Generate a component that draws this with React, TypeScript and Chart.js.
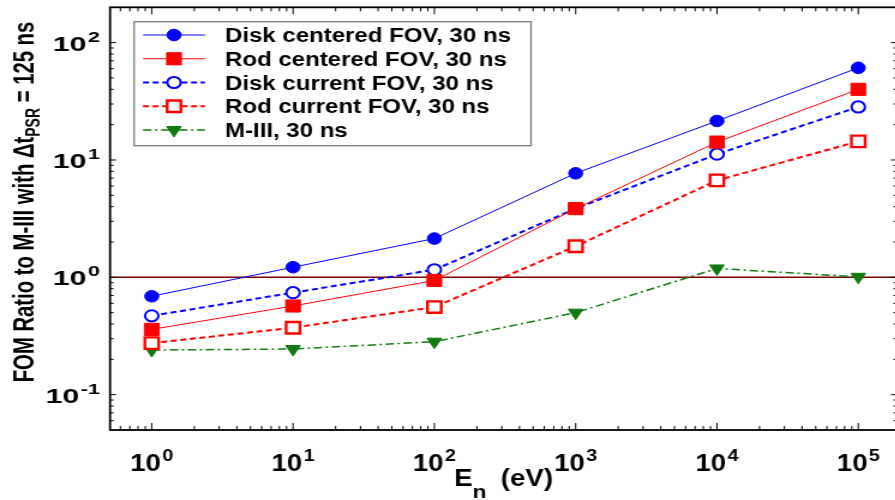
import React, { useEffect, useRef } from 'react';
import { Chart, registerables } from 'chart.js';

Chart.register(...registerables);

// ---------- data ----------
const ENERGY_EV = [1, 10, 100, 1000, 10000, 100000];
const DISK_CENTERED = [0.69, 1.22, 2.14, 7.7, 21.5, 61];
const ROD_CENTERED = [0.36, 0.57, 0.94, 3.85, 14.2, 40];
const DISK_CURRENT = [0.47, 0.74, 1.16, 3.85, 11.2, 28.3];
const ROD_CURRENT = [0.275, 0.372, 0.558, 1.84, 6.7, 14.4];
const M_III = [0.24, 0.245, 0.283, 0.5, 1.19, 1.01];
const SERIES_LABELS = [
  'Disk centered FOV, 30 ns',
  'Rod centered FOV, 30 ns',
  'Disk current FOV, 30 ns',
  'Rod current FOV, 30 ns',
  'M-III, 30 ns',
];
const X_TICK_EXPONENTS = ['0', '1', '2', '3', '4', '5'];
const Y_TICK_EXPONENTS = ['-1', '0', '1', '2'];
const REFERENCE_RATIO = 1;
const X_MIN = 0.507;
const X_MAX = 1.88e5;
const Y_MIN = 0.05;
const Y_MAX = 200;

// ---------- styling ----------
const FONT = '"Liberation Sans", Arial, Helvetica, sans-serif';
const STRETCH = 1.2; // horizontal stretch of the whole picture
const CANVAS_W = 750;
const CANVAS_H = 500;

type Style = {
  color: string;
  width: number;
  dash: number[];
  point: 'circle' | 'rect' | 'triangle';
  radius: number;
  filled: boolean;
  pbw: number;
  rot: number;
};

const STYLES: Style[] = [
  { color: '#0000ff', width: 1, dash: [], point: 'circle', radius: 5.8, filled: true, pbw: 1, rot: 0 },
  { color: '#ff0000', width: 1, dash: [], point: 'rect', radius: 8.6, filled: true, pbw: 1, rot: 0 },
  { color: '#0000ff', width: 2, dash: [5, 3], point: 'circle', radius: 5.6, filled: false, pbw: 2, rot: 0 },
  { color: '#ff0000', width: 2, dash: [5, 3], point: 'rect', radius: 8.1, filled: false, pbw: 2.4, rot: 0 },
  { color: '#117a11', width: 1.5, dash: [7, 3, 2, 3], point: 'triangle', radius: 7, filled: true, pbw: 1, rot: 180 },
];

const SERIES = [DISK_CENTERED, ROD_CENTERED, DISK_CURRENT, ROD_CURRENT, M_III];

function logTicks(min: number, max: number) {
  const out: { v: number; major: boolean }[] = [];
  const e0 = Math.floor(Math.log10(min));
  const e1 = Math.ceil(Math.log10(max));
  for (let e = e0; e <= e1; e++) {
    for (let m = 1; m <= 9; m++) {
      const v = m * Math.pow(10, e);
      if (v > min * 1.0001 && v < max * 0.9999) out.push({ v, major: m === 1 });
    }
  }
  return out;
}

function drawMarker(ctx: CanvasRenderingContext2D, s: Style, x: number, y: number) {
  ctx.save();
  ctx.setLineDash([]);
  ctx.beginPath();
  const r = s.radius;
  if (s.point === 'circle') {
    ctx.arc(x, y, r, 0, Math.PI * 2);
  } else if (s.point === 'rect') {
    const h = r * Math.SQRT1_2;
    ctx.rect(x - h, y - h, 2 * h, 2 * h);
  } else {
    let rad = (s.rot * Math.PI) / 180;
    ctx.moveTo(x + Math.sin(rad) * r, y - Math.cos(rad) * r);
    rad += (2 * Math.PI) / 3;
    ctx.lineTo(x + Math.sin(rad) * r, y - Math.cos(rad) * r);
    rad += (2 * Math.PI) / 3;
    ctx.lineTo(x + Math.sin(rad) * r, y - Math.cos(rad) * r);
    ctx.closePath();
  }
  ctx.fillStyle = s.filled ? s.color : '#ffffff';
  ctx.fill();
  ctx.lineWidth = s.pbw;
  ctx.strokeStyle = s.color;
  ctx.stroke();
  ctx.restore();
}

function drawPow(
  ctx: CanvasRenderingContext2D,
  exp: string,
  x: number,
  y: number,
  align: 'center' | 'right',
  baseSize: number,
  supSize: number,
  sx: number,
  rise: number
) {
  ctx.save();
  ctx.textAlign = 'left';
  ctx.textBaseline = 'alphabetic';
  ctx.fillStyle = '#000';
  ctx.font = `bold ${baseSize}px ${FONT}`;
  const wb = ctx.measureText('10').width;
  ctx.font = `bold ${supSize}px ${FONT}`;
  const we = ctx.measureText(exp).width;
  const gap = 1;
  const total = (wb + gap + we) * sx;
  const left = align === 'center' ? x - total / 2 : x - total;
  ctx.translate(left, y);
  ctx.scale(sx, 1);
  ctx.font = `bold ${baseSize}px ${FONT}`;
  ctx.fillText('10', 0, 0);
  ctx.font = `bold ${supSize}px ${FONT}`;
  ctx.fillText(exp, wb + gap, -rise);
  ctx.restore();
}

const decorPlugin = {
  id: 'decor',
  afterDatasetsDraw(chart: any) {
    const ctx: CanvasRenderingContext2D = chart.ctx;
    const a = chart.chartArea;
    const xs = chart.scales.x;
    const ys = chart.scales.y;
    ctx.save();

    // ticks (inside)
    ctx.strokeStyle = '#000';
    ctx.lineWidth = 1;
    ctx.setLineDash([]);
    for (const t of logTicks(X_MIN, X_MAX)) {
      const px = xs.getPixelForValue(t.v);
      const len = t.major ? 7 : 4;
      ctx.beginPath();
      ctx.moveTo(px, a.bottom);
      ctx.lineTo(px, a.bottom - len);
      ctx.moveTo(px, a.top);
      ctx.lineTo(px, a.top + len);
      ctx.stroke();
    }
    for (const t of logTicks(Y_MIN, Y_MAX)) {
      const py = ys.getPixelForValue(t.v);
      const len = t.major ? 5 : 3;
      ctx.beginPath();
      ctx.moveTo(a.left, py);
      ctx.lineTo(a.left + len, py);
      ctx.moveTo(a.right, py);
      ctx.lineTo(a.right - len, py);
      ctx.stroke();
    }

    // frame
    ctx.lineWidth = 1.8;
    ctx.strokeRect(a.left, a.top, a.right - a.left, a.bottom - a.top);

    // x tick labels
    X_TICK_EXPONENTS.forEach((e) => {
      const px = xs.getPixelForValue(Math.pow(10, Number(e)));
      drawPow(ctx, e, px, 471, 'center', 23, 16.5, 1, 10.5);
    });
    // y tick labels
    Y_TICK_EXPONENTS.forEach((e) => {
      const py = ys.getPixelForValue(Math.pow(10, Number(e)));
      drawPow(ctx, e, 83.3, py + 8, 'right', 21, 15, 1.2, 9);
    });

    // x title
    {
      const mainF = `bold 23px ${FONT}`;
      const subF = `bold 19px ${FONT}`;
      ctx.font = mainF;
      const wE = ctx.measureText('E').width;
      const wP = ctx.measureText('(eV)').width;
      ctx.font = subF;
      const wN = ctx.measureText('n').width;
      const gap = 12;
      const total = wE + wN + gap + wP;
      const cx = (a.left + a.right) / 2;
      let x = cx - total / 2;
      ctx.fillStyle = '#000';
      ctx.textAlign = 'left';
      ctx.textBaseline = 'alphabetic';
      ctx.font = mainF;
      ctx.fillText('E', x, 486);
      x += wE;
      ctx.font = subF;
      ctx.fillText('n', x, 498);
      x += wN + gap;
      ctx.font = mainF;
      ctx.fillText('(eV)', x, 486);
    }

    // y title (rotated)
    {
      const mainF = `bold 20.3px ${FONT}`;
      const subF = `bold 14px ${FONT}`;
      const p1 = 'FOM Ratio to M-III with \u0394t';
      const p2 = 'PSR';
      const p3 = ' = 125 ns';
      ctx.font = mainF;
      const w1 = ctx.measureText(p1).width;
      const w3 = ctx.measureText(p3).width;
      ctx.font = subF;
      const w2 = ctx.measureText(p2).width;
      const total = w1 + w2 + w3;
      ctx.save();
      ctx.translate(27.5, 202);
      ctx.rotate(-Math.PI / 2);
      ctx.scale(1, 1.22);
      ctx.fillStyle = '#000';
      ctx.textAlign = 'left';
      ctx.textBaseline = 'alphabetic';
      let x = -total / 2;
      ctx.font = mainF;
      ctx.fillText(p1, x, 0);
      x += w1;
      ctx.font = subF;
      ctx.fillText(p2, x, 4.5);
      x += w2;
      ctx.font = mainF;
      ctx.fillText(p3, x, 0);
      ctx.restore();
    }

    // legend
    {
      const bx0 = 111.7;
      const bx1 = 442.5;
      const by0 = 21.7;
      const by1 = 145.7;
      ctx.fillStyle = '#ffffff';
      ctx.fillRect(bx0, by0, bx1 - bx0, by1 - by0);
      ctx.strokeStyle = '#7a7a7a';
      ctx.lineWidth = 1.3;
      ctx.setLineDash([]);
      ctx.strokeRect(bx0, by0, bx1 - bx0, by1 - by0);
      SERIES_LABELS.forEach((label, i) => {
        const s = STYLES[i];
        const y = 35 + i * 23.75;
        ctx.save();
        ctx.strokeStyle = s.color;
        ctx.lineWidth = s.width;
        ctx.setLineDash(s.dash);
        ctx.beginPath();
        ctx.moveTo(119.2, y);
        ctx.lineTo(170.8, y);
        ctx.stroke();
        ctx.restore();
        drawMarker(ctx, s, 145, y);
        ctx.fillStyle = '#000';
        ctx.font = `bold 20px ${FONT}`;
        ctx.textAlign = 'left';
        ctx.textBaseline = 'alphabetic';
        ctx.fillText(label, 187.5, y + 7.2);
      });
    }

    ctx.restore();
  },
};

export default function App() {
  const ref = useRef<HTMLCanvasElement | null>(null);

  useEffect(() => {
    if (!ref.current) return;
    const datasets: any[] = SERIES.map((vals, i) => {
      const s = STYLES[i];
      return {
        label: SERIES_LABELS[i],
        data: ENERGY_EV.map((x, j) => ({ x, y: vals[j] })),
        showLine: true,
        borderColor: s.color,
        borderWidth: s.width,
        borderDash: s.dash,
        pointStyle: s.point,
        pointRadius: s.radius,
        pointHoverRadius: s.radius,
        pointRotation: s.rot,
        pointBackgroundColor: s.filled ? s.color : '#ffffff',
        pointBorderColor: s.color,
        pointBorderWidth: s.pbw,
        backgroundColor: s.filled ? s.color : '#ffffff',
        fill: false,
        tension: 0,
      };
    });
    datasets.push({
      label: 'reference',
      data: [
        { x: X_MIN, y: REFERENCE_RATIO },
        { x: X_MAX, y: REFERENCE_RATIO },
      ],
      showLine: true,
      borderColor: '#800000',
      borderWidth: 1.5,
      pointRadius: 0,
      fill: false,
    });

    const chart = new Chart(ref.current, {
      type: 'scatter',
      data: { datasets },
      options: {
        animation: false,
        responsive: false,
        devicePixelRatio: 1,
        events: [],
        layout: {
          autoPadding: false,
          padding: { left: 91.7, right: CANVAS_W - 747.5, top: 7.3, bottom: CANVAS_H - 430 },
        },
        plugins: { legend: { display: false }, tooltip: { enabled: false }, title: { display: false } },
        scales: {
          x: { type: 'logarithmic', min: X_MIN, max: X_MAX, display: false },
          y: { type: 'logarithmic', min: Y_MIN, max: Y_MAX, display: false },
        },
      } as any,
      plugins: [decorPlugin],
    });
    return () => chart.destroy();
  }, []);

  return (
    <div
      style={{
        position: 'fixed',
        left: 0,
        top: 0,
        width: 895,
        height: 500,
        overflow: 'hidden',
        background: '#ffffff',
      }}
    >
      <canvas
        ref={ref}
        width={CANVAS_W}
        height={CANVAS_H}
        style={{
          display: 'block',
          width: CANVAS_W + 'px',
          height: CANVAS_H + 'px',
          transform: `scaleX(${STRETCH})`,
          transformOrigin: '0 0',
        }}
      />
    </div>
  );
}
